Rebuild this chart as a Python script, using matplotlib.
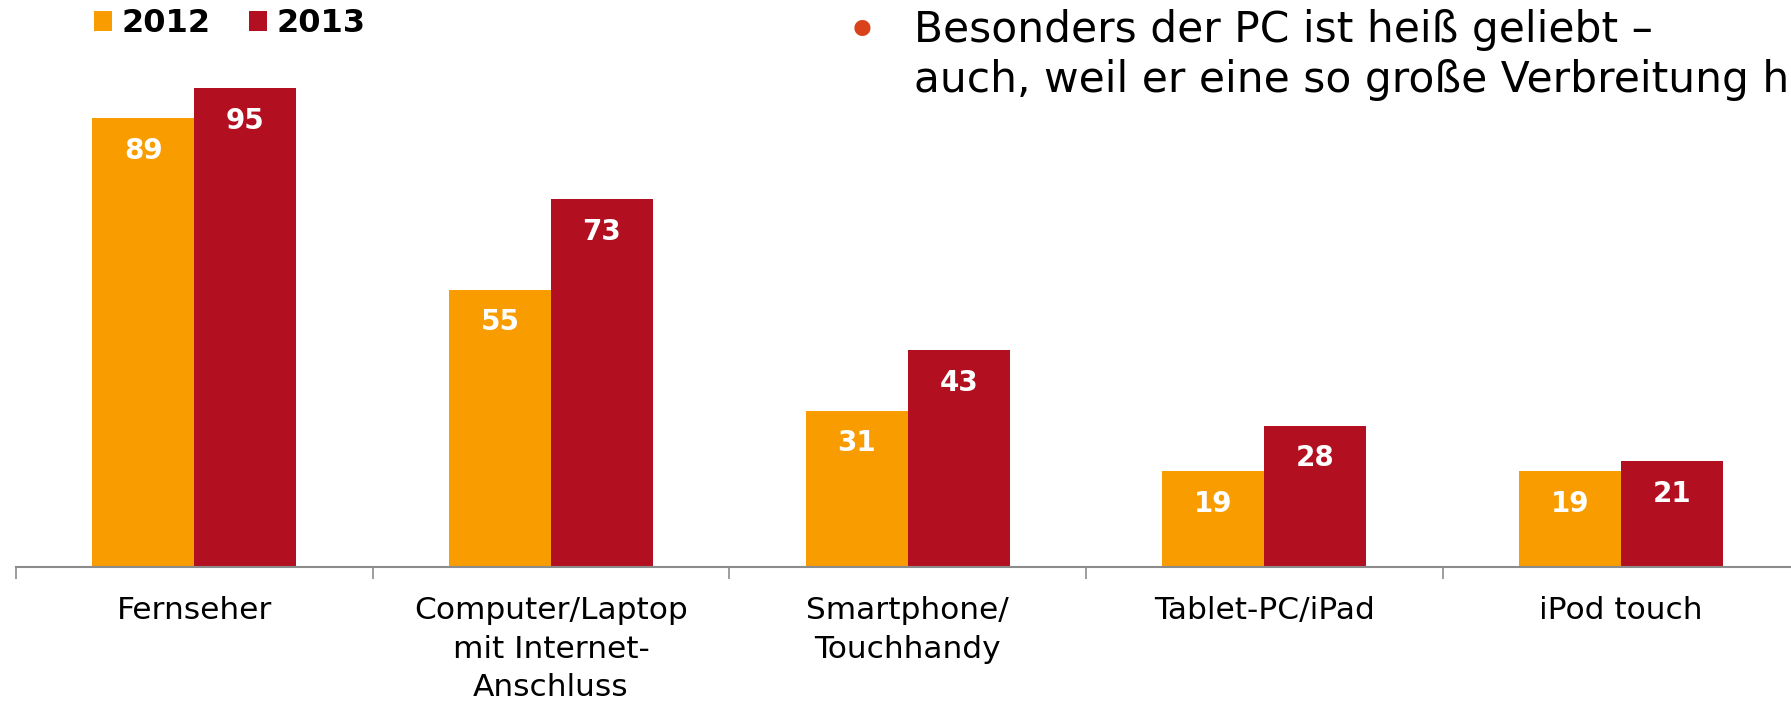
import matplotlib.pyplot as plt
import numpy as np

categories = ['Fernseher', 'Computer/Laptop\nmit Internet-\nAnschluss', 'Smartphone/\nTouchhandy',
              'Tablet-PC/iPad', 'iPod touch']
values_2012 = [89, 55, 31, 19, 19]
values_2013 = [95, 73, 43, 28, 21]
years = ['2012', '2013']

orange = '#F89C00'
red = '#B21020'
grey = '#8c8c8c'

plt.rcParams['font.family'] = ['DejaVu Sans']

fig = plt.figure(figsize=(17.91, 7.01), dpi=100)
ax = fig.add_axes([0.0089, 0.1912, 0.9958, 0.719])

x = np.arange(len(categories))
w = 0.286
b1 = ax.bar(x - w / 2, values_2012, w, color=orange, label=years[0])
b2 = ax.bar(x + w / 2, values_2013, w, color=red, label=years[1])

# value labels inside the top of each bar
for bars in (b1, b2):
    for rect in bars:
        ax.annotate(f'{rect.get_height():.0f}', (rect.get_x() + rect.get_width() / 2, rect.get_height()),
                    xytext=(0, -23.5), textcoords='offset points', ha='center', va='center',
                    color='white', fontsize=20, fontweight='bold')

ax.set_xlim(-0.5, len(categories) - 0.5)
ax.set_ylim(0, 100)
for s in ['top', 'right', 'left']:
    ax.spines[s].set_visible(False)
ax.spines['bottom'].set_color(grey)
ax.spines['bottom'].set_linewidth(1.5)
ax.set_yticks([])
ax.set_xticks(np.arange(len(categories) + 1) - 0.5, minor=True)
ax.set_xticks(x)
ax.set_xticklabels(categories, fontsize=22.5, linespacing=1.41, va='top')
ax.tick_params(axis='x', which='major', length=0, pad=21)
ax.tick_params(axis='x', which='minor', length=8.5, color=grey, width=1.2)

fig.legend(handles=[b1, b2], loc='center left', bbox_to_anchor=(0.0525, 0.966), ncol=2, frameon=False,
           borderpad=0, borderaxespad=0, handlelength=0.56, handleheight=0.56, handletextpad=0.31,
           columnspacing=1.18, prop={'size': 23, 'weight': 'bold'})

# bullet text, top right (runs off the right edge like in the slide)
fig.text(0.4813, 0.951, '\u2022', color='#D9421A', fontsize=40, ha='center', va='center')
fig.text(0.5103, 0.940, 'Besonders der PC ist heiß geliebt \u2013', fontsize=30.5, ha='left', va='baseline')
fig.text(0.5103, 0.869, 'auch, weil er eine so große Verbreitung hat', fontsize=30.5, ha='left', va='baseline')

fig.savefig('out.png', dpi=100)
